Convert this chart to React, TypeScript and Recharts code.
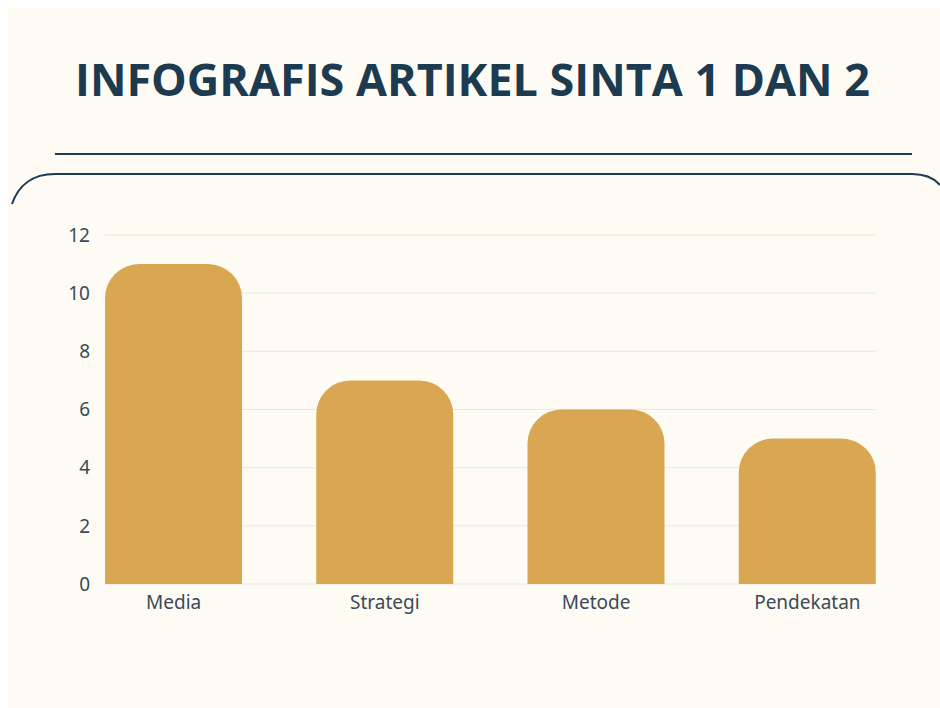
import { BarChart, Bar, XAxis, YAxis, CartesianGrid } from 'recharts'

const categories = ['Media', 'Strategi', 'Metode', 'Pendekatan']
const counts = [11, 7, 6, 5]
const yTicks = [0, 2, 4, 6, 8, 10, 12]

const data = categories.map((name, i) => ({ name, jumlah: counts[i] }))

const NAVY = '#1d3b50'
const GOLD = '#d9a752'
const CREAM = '#fdfbf4'
const TICK = '#3b4a57'

export default function App() {
    return (
        <div style={{ position: 'absolute', left: 0, top: 0, width: 940, height: 708, background: '#ffffff' }}>
            <div style={{ position: 'absolute', left: 8, top: 8, width: 932, height: 700, background: CREAM }} />
            <svg width={940} height={708} style={{ position: 'absolute', left: 0, top: 0 }}>
                <text
                    x={75}
                    y={96}
                    textLength={795}
                    lengthAdjust="spacingAndGlyphs"
                    fill={NAVY}
                    style={{ fontFamily: '"Open Sans", sans-serif', fontWeight: 700, fontSize: 45 }}
                >
                    INFOGRAFIS ARTIKEL SINTA 1 DAN 2
                </text>
                <line x1={55} y1={154} x2={912} y2={154} stroke={NAVY} strokeWidth={2} />
                {/* rounded top border of the card */}
                <path
                    d="M 12 204 C 18 186, 32 174, 55 174 L 912 174 C 925 174, 934 178, 940 185"
                    fill="none"
                    stroke={NAVY}
                    strokeWidth={2}
                />
            </svg>
            <div style={{ position: 'absolute', left: 0, top: 200 }}>
                <BarChart
                    width={940}
                    height={420}
                    data={data}
                    margin={{ top: 35, right: 64, bottom: 0, left: 45 }}
                    barSize={137}
                >
                    <CartesianGrid vertical={false} stroke="#ebe7df" strokeWidth={1} />
                    <XAxis
                        dataKey="name"
                        axisLine={false}
                        tickLine={false}
                        tickSize={0}
                        tickMargin={12}
                        padding={{ left: -37, right: -37 }}
                        tick={{ fill: TICK, fontSize: 19, fontFamily: '"Noto Sans", sans-serif' }}
                        height={36}
                    />
                    <YAxis
                        domain={[0, 12]}
                        ticks={yTicks}
                        axisLine={false}
                        tickLine={false}
                        tickSize={0}
                        tickMargin={15}
                        width={60}
                        tick={{ fill: TICK, fontSize: 19, fontFamily: '"Noto Sans", sans-serif' }}
                    />
                    <Bar dataKey="jumlah" fill={GOLD} radius={[34, 34, 0, 0]} isAnimationActive={false} />
                </BarChart>
            </div>
        </div>
    )
}
